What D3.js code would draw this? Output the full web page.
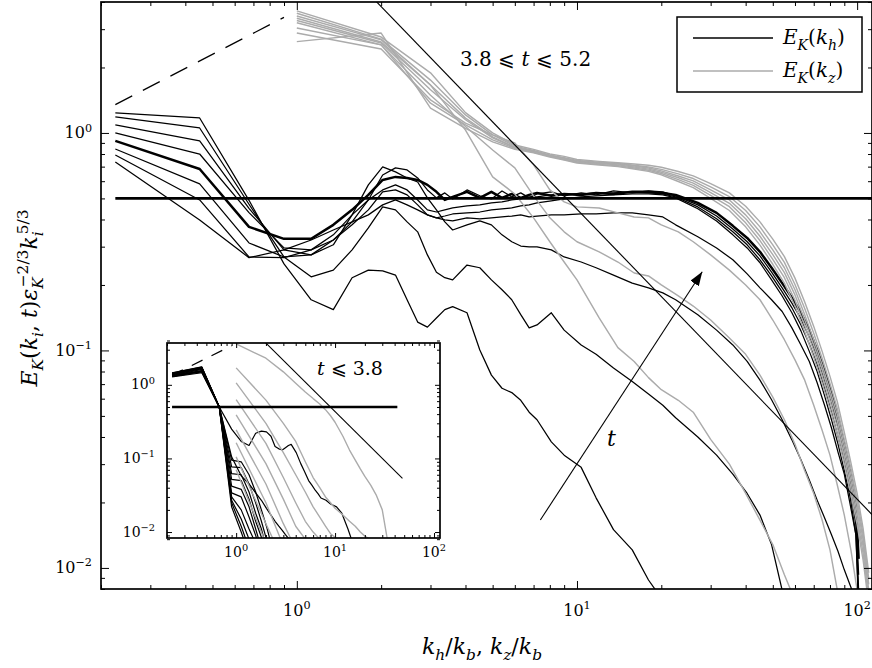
<!DOCTYPE html>
<html>
<head>
<meta charset="utf-8">
<script src="https://cdn.jsdelivr.net/npm/d3@7"></script>
<style>
  body { margin: 0; background: #fff; }
  svg { display: block; }
</style>
</head>
<body>
<div id="chart"></div>
<script>
// ---- wavenumber grids ----
var kh = [0.225, 0.45, 0.675, 0.9, 1.125, 1.35, 1.575, 1.8, 2.025, 2.25, 2.475, 2.7, 2.925, 3.15, 3.375, 3.6,
  4.05, 4.5, 4.95, 5.4, 5.85, 6.3, 6.75, 7.2, 8.1, 9, 10.35, 11.7, 13.5, 15.75, 18, 20.25, 22.5, 27, 31.5, 36,
  40.5, 45, 49.5, 54, 58.5, 63, 67.5, 72, 76.5, 81, 85.5, 90, 94.5, 99, 101.25];
var kz = [1, 2, 3, 4, 5, 6, 7, 8, 9, 10, 12, 14, 16, 18, 20, 23, 26, 30, 35, 40, 45, 50, 55, 60, 65, 70, 75,
  80, 85, 90, 95, 100, 105, 110];

// ---- main panel, E_K(k_h), 3.8 <= t <= 5.2 ----
var ekh0 = [1.236, 1.172, 0.49, 0.25, 0.171, 0.154, 0.216, 0.234, 0.232, 0.222, 0.171, 0.135, 0.128, 0.141, 0.154, 0.159,
  0.149, 0.1005, 0.077, 0.067, 0.064, 0.059, 0.052, 0.048, 0.038, 0.033, 0.029, 0.021, 0.015, 0.0121, 0.0088, 0.0071];
var ekh1 = [1.185, 1.054, 0.47, 0.269, 0.218, 0.234, 0.290, 0.366, 0.457, 0.443, 0.390, 0.351, 0.275, 0.229, 0.216, 0.211,
  0.247, 0.240, 0.211, 0.190, 0.171, 0.146, 0.127, 0.131, 0.149, 0.124, 0.106, 0.096, 0.083, 0.072, 0.063, 0.056, 0.049,
  0.040, 0.033, 0.027, 0.022, 0.0175, 0.0128, 0.0079];
var ekh2 = [1.088, 0.919, 0.45, 0.290, 0.275, 0.306, 0.420, 0.577, 0.698, 0.662, 0.621, 0.595, 0.503, 0.443, 0.390, 0.358,
  0.378, 0.394, 0.378, 0.340, 0.316, 0.302, 0.299, 0.299, 0.290, 0.269, 0.255, 0.240, 0.222, 0.204, 0.194, 0.184, 0.171,
  0.146, 0.124, 0.106, 0.089, 0.073, 0.0593, 0.048, 0.0388, 0.0314, 0.0254, 0.0205, 0.0170, 0.0142, 0.0119, 0.0098,
  0.0083, 0.0071];
var ekh3 = [1.0, 0.80, 0.43, 0.296, 0.290, 0.322, 0.378, 0.443, 0.536, 0.547, 0.519, 0.467, 0.420, 0.407, 0.398, 0.394,
  0.407, 0.403, 0.407, 0.411, 0.415, 0.420, 0.411, 0.415, 0.420, 0.420, 0.424, 0.424, 0.429, 0.429, 0.420, 0.411, 0.378,
  0.333, 0.296, 0.261, 0.225, 0.194, 0.171, 0.151, 0.127, 0.106, 0.089, 0.071, 0.056, 0.044, 0.034, 0.027, 0.0195,
  0.0142, 0.0064];
var ekh4 = [0.919, 0.683, 0.370, 0.326, 0.326, 0.378, 0.443, 0.519, 0.608, 0.628, 0.621, 0.608, 0.577, 0.536, 0.492, 0.508,
  0.536, 0.503, 0.536, 0.503, 0.524, 0.503, 0.519, 0.530, 0.514, 0.524, 0.519, 0.530, 0.524, 0.536, 0.536, 0.530, 0.519,
  0.477, 0.429, 0.374, 0.329, 0.284, 0.240, 0.204, 0.175, 0.149, 0.124, 0.1005, 0.080, 0.063, 0.048, 0.037, 0.028,
  0.0195, 0.011];
var ekh5 = [0.844, 0.583, 0.312, 0.269, 0.275, 0.322, 0.390, 0.492, 0.641, 0.691, 0.676, 0.621, 0.547, 0.503, 0.530, 0.497,
  0.547, 0.514, 0.497, 0.541, 0.508, 0.530, 0.503, 0.524, 0.536, 0.514, 0.530, 0.519, 0.541, 0.530, 0.541, 0.536, 0.514,
  0.467, 0.415, 0.362, 0.316, 0.272, 0.229, 0.194, 0.165, 0.140, 0.115, 0.094, 0.073, 0.058, 0.044, 0.034, 0.025,
  0.0175, 0.0093];
var ekh6 = [0.792, 0.492, 0.269, 0.267, 0.290, 0.340, 0.420, 0.492, 0.547, 0.577, 0.547, 0.492, 0.443, 0.433, 0.443, 0.452,
  0.462, 0.467, 0.477, 0.482, 0.492, 0.497, 0.508, 0.508, 0.519, 0.524, 0.524, 0.530, 0.530, 0.536, 0.530, 0.524, 0.508,
  0.457, 0.403, 0.351, 0.306, 0.261, 0.220, 0.186, 0.157, 0.131, 0.107, 0.086, 0.067, 0.052, 0.040, 0.031, 0.023,
  0.0158, 0.0079];
var ekh7 = [0.736, 0.398, 0.267, 0.290, 0.322, 0.358, 0.390, 0.420, 0.467, 0.492, 0.467, 0.443, 0.420, 0.407, 0.415, 0.424,
  0.429, 0.433, 0.443, 0.448, 0.452, 0.462, 0.467, 0.477, 0.487, 0.497, 0.508, 0.514, 0.519, 0.524, 0.524, 0.519, 0.503,
  0.448, 0.394, 0.340, 0.296, 0.253, 0.211, 0.178, 0.149, 0.123, 0.099, 0.080, 0.062, 0.048, 0.037, 0.028, 0.021,
  0.0142, 0.0071];
var mainKh = [ekh0, ekh1, ekh2, ekh3, ekh4, ekh5, ekh6, ekh7];
var thickIndex = 4;

// ---- main panel, E_K(k_z) ----
var ekz0 = [3.45, 2.68, 1.66, 1.03, 0.628, 0.524, 0.407, 0.316, 0.255, 0.211, 0.141, 0.103, 0.089, 0.075, 0.066, 0.059,
  0.052, 0.039, 0.030, 0.022, 0.0166, 0.0128, 0.0093, 0.0071];
var ekz1 = [3.04, 2.54, 1.49, 1.07, 0.835, 0.691, 0.514, 0.407, 0.351, 0.316, 0.284, 0.255, 0.227, 0.220, 0.200, 0.178,
  0.160, 0.138, 0.114, 0.096, 0.077, 0.061, 0.048, 0.037, 0.028, 0.022, 0.0166, 0.0121, 0.0079];
var ekz2 = [2.88, 2.43, 1.42, 1.11, 0.979, 0.90, 0.713, 0.547, 0.482, 0.457, 0.452, 0.429, 0.411, 0.407, 0.378, 0.351,
  0.316, 0.275, 0.234, 0.200, 0.171, 0.138, 0.112, 0.0905, 0.073, 0.056, 0.043, 0.033, 0.024, 0.0175, 0.0121, 0.0079];
var ekz3 = [3.64, 2.76, 1.89, 1.24, 1.00, 0.88, 0.84, 0.80, 0.78, 0.755, 0.74, 0.73, 0.72, 0.71, 0.695, 0.665, 0.635,
  0.585, 0.53, 0.46, 0.39, 0.325, 0.27, 0.215, 0.167, 0.129, 0.099, 0.076, 0.058, 0.042, 0.0305, 0.022, 0.0152, 0.0095];
var ekz4 = [3.55, 2.70, 1.75, 1.21, 0.98, 0.87, 0.83, 0.79, 0.77, 0.748, 0.733, 0.724, 0.71, 0.697, 0.68, 0.648, 0.617,
  0.565, 0.51, 0.44, 0.37, 0.306, 0.254, 0.201, 0.156, 0.12, 0.092, 0.0705, 0.054, 0.039, 0.0285, 0.0206, 0.0143, 0.0089];
var ekz5 = [3.37, 2.62, 1.66, 1.17, 0.96, 0.86, 0.825, 0.79, 0.765, 0.742, 0.728, 0.72, 0.705, 0.69, 0.669, 0.634, 0.602,
  0.547, 0.492, 0.42, 0.351, 0.29, 0.24, 0.19, 0.146, 0.112, 0.0859, 0.0658, 0.0506, 0.0368, 0.0268, 0.0195, 0.0135, 0.0084];
var ekz6 = [3.29, 2.59, 1.58, 1.15, 0.95, 0.855, 0.82, 0.785, 0.76, 0.738, 0.723, 0.713, 0.697, 0.682, 0.66, 0.622, 0.588,
  0.532, 0.475, 0.403, 0.335, 0.276, 0.228, 0.18, 0.138, 0.106, 0.081, 0.062, 0.0475, 0.0345, 0.0251, 0.0182, 0.0126, 0.0079];
var ekz7 = [3.21, 2.54, 1.37, 1.09, 0.93, 0.85, 0.815, 0.78, 0.755, 0.733, 0.717, 0.706, 0.69, 0.674, 0.651, 0.61, 0.574,
  0.516, 0.458, 0.386, 0.32, 0.262, 0.216, 0.17, 0.13, 0.1, 0.076, 0.058, 0.0445, 0.0322, 0.0234, 0.017, 0.0117, 0.0073];
var ekz8 = [2.63, 2.88, 1.30, 1.05, 0.91, 0.84, 0.81, 0.775, 0.75, 0.728, 0.712, 0.70, 0.683, 0.666, 0.642, 0.598, 0.56,
  0.5, 0.44, 0.37, 0.305, 0.249, 0.204, 0.16, 0.122, 0.093, 0.071, 0.054, 0.0413, 0.03, 0.0218, 0.0158, 0.0109, 0.0068];
var mainKz = [ekz0, ekz1, ekz2, ekz3, ekz4, ekz5, ekz6, ekz7, ekz8];

// ---- inset, t <= 3.8 ----
var insKh = [
  [1.30, 1.55, 0.50, 0.25, 0.17, 0.15, 0.22, 0.235, 0.23, 0.20, 0.145, 0.135, 0.13, 0.14, 0.15, 0.155, 0.12, 0.085,
    0.065, 0.05, 0.043, 0.037, 0.033, 0.029, 0.027, 0.024, 0.022, 0.018, 0.011, 0.006],
  [1.33, 1.62, 0.50, 0.105, 0.058, 0.045, 0.034, 0.027, 0.021, 0.017, 0.014, 0.012, 0.0105, 0.0092, 0.0082, 0.007],
  [1.36, 1.66, 0.50, 0.095, 0.09, 0.06, 0.035, 0.02, 0.012, 0.007],
  [1.38, 1.68, 0.50, 0.077, 0.075, 0.045, 0.025, 0.014, 0.008, 0.005],
  [1.40, 1.70, 0.50, 0.062, 0.06, 0.035, 0.018, 0.011, 0.006],
  [1.42, 1.72, 0.50, 0.052, 0.05, 0.028, 0.014, 0.0085, 0.005],
  [1.44, 1.74, 0.50, 0.042, 0.038, 0.022, 0.011, 0.006],
  [1.45, 1.75, 0.50, 0.034, 0.03, 0.016, 0.009, 0.005],
  [1.28, 1.46, 0.50, 0.030, 0.02, 0.011, 0.007],
  [1.30, 1.50, 0.50, 0.027, 0.015, 0.008, 0.005],
  [1.32, 1.52, 0.50, 0.025, 0.012, 0.006],
  [1.34, 1.56, 0.50, 0.022, 0.010, 0.005]
];
var insKz = [
  [0.07, 0.007],
  [0.105, 0.013, 0.004],
  [0.163, 0.025, 0.0065],
  [0.244, 0.045, 0.013, 0.006],
  [0.39, 0.085, 0.028, 0.012, 0.008, 0.004],
  [0.63, 0.16, 0.055, 0.025, 0.014, 0.010, 0.008, 0.005],
  [1.06, 0.30, 0.12, 0.06, 0.035, 0.022, 0.016, 0.012, 0.0095, 0.0085, 0.005],
  [1.7, 0.62, 0.30, 0.17, 0.09, 0.055, 0.04, 0.03, 0.025, 0.021, 0.017, 0.014, 0.012, 0.010, 0.0088, 0.0078, 0.006],
  [3.6, 2.3, 1.5, 1.05, 0.8, 0.65, 0.55, 0.46, 0.38, 0.31, 0.2, 0.13, 0.095, 0.072, 0.057, 0.043, 0.032, 0.02, 0.006]
];

// ---- reference lines ----
var plateau = [[0.225, 0.5], [113, 0.5]];
var slope43 = [[1, 9.6], [113, 0.0176]];
var slope23 = [[0.225, 1.35], [0.9, 3.4]];
var insPlateau = [[0.225, 0.5], [42.6, 0.5]];
var insSlope43 = [[1, 9.3], [48, 0.0534]];
var arrowT = [[7.4, 0.0166], [28, 0.23]];

// ---- ticks ----
var xMajor = [1, 10, 100];
var xMinor = [0.2, 0.3, 0.4, 0.5, 0.6, 0.7, 0.8, 0.9, 2, 3, 4, 5, 6, 7, 8, 9, 20, 30, 40, 50, 60, 70, 80, 90];
var yMajor = [0.01, 0.1, 1];
var yMinor = [0.008, 0.009, 0.02, 0.03, 0.04, 0.05, 0.06, 0.07, 0.08, 0.09, 0.2, 0.3, 0.4, 0.5, 0.6, 0.7, 0.8, 0.9, 2, 3, 4];
var xLabels = [[1, '0'], [10, '1'], [100, '2']];
var yLabels = [[1, '0'], [0.1, '\u22121'], [0.01, '\u22122']];

var GRAY = '#ababab';
var FONT = '"DejaVu Serif", serif';

var svg = d3.select('#chart').append('svg').attr('width', 872).attr('height', 668);
svg.append('rect').attr('width', 872).attr('height', 668).attr('fill', '#fff');

// math-like text from parts: {t, i: italic, s: 'sub'|'sup', dx}
function mathText(g, x, y, parts, size, anchor) {
  var t = g.append('text').attr('x', x).attr('y', y)
    .attr('font-family', FONT).attr('fill', '#000')
    .attr('font-size', size).attr('text-anchor', anchor || 'start');
  var level = 0;
  parts.forEach(function(p) {
    var shift = p.s === 'sub' ? 0.28 : (p.s === 'sup' ? -0.42 : 0);
    t.append('tspan')
      .attr('dy', ((shift - level) * size).toFixed(2))
      .attr('dx', p.dx || 0)
      .attr('font-size', p.s ? size * 0.7 : size)
      .attr('font-style', p.i ? 'italic' : 'normal')
      .text(p.t);
    level = shift;
  });
  return t;
}

function drawTicks(g, xs, ys, big, small) {
  var xr = xs.range(), yr = ys.range();
  var sets = [
    [d3.axisBottom(xs), 'translate(0,' + yr[0] + ')', xMajor, xMinor],
    [d3.axisTop(xs), 'translate(0,' + yr[1] + ')', xMajor, xMinor],
    [d3.axisLeft(ys), 'translate(' + xr[0] + ',0)', yMajor, yMinor],
    [d3.axisRight(ys), 'translate(' + xr[1] + ',0)', yMajor, yMinor]
  ];
  sets.forEach(function(s) {
    [[s[2], big], [s[3], small]].forEach(function(p) {
      var ax = s[0].tickValues(p[0]).tickSize(-p[1]).tickFormat('');
      g.append('g').attr('transform', s[1]).call(ax)
        .call(function(a) { a.select('.domain').remove(); });
    });
  });
}

function panel(id, xs, ys, opts) {
  var xr = xs.range(), yr = ys.range();
  var g = svg.append('g');
  svg.append('clipPath').attr('id', id)
    .append('rect').attr('x', xr[0]).attr('y', yr[1])
    .attr('width', xr[1] - xr[0]).attr('height', yr[0] - yr[1]);
  g.append('rect').attr('x', xr[0]).attr('y', yr[1])
    .attr('width', xr[1] - xr[0]).attr('height', yr[0] - yr[1]).attr('fill', '#fff');
  var plot = g.append('g').attr('clip-path', 'url(#' + id + ')');
  var line = d3.line().x(function(d) { return xs(d[0]); }).y(function(d) { return ys(d[1]); });

  plot.selectAll('.kh').data(opts.kh).enter().append('path')
    .attr('d', function(d) { return line(d3.zip(kh, d)); })
    .attr('fill', 'none').attr('stroke', '#000')
    .attr('stroke-width', function(d, i) { return i === opts.thick ? opts.lw * 2 : opts.lw; })
    .attr('stroke-linejoin', 'round');
  plot.selectAll('.kz').data(opts.kz).enter().append('path')
    .attr('d', function(d) { return line(d3.zip(kz, d)); })
    .attr('fill', 'none').attr('stroke', GRAY).attr('stroke-width', opts.lw * 1.15)
    .attr('stroke-linejoin', 'round');

  plot.append('path').attr('d', line(opts.plateau))
    .attr('stroke', '#000').attr('stroke-width', opts.lw * 2.1);
  plot.append('path').attr('d', line(opts.slope))
    .attr('stroke', '#000').attr('stroke-width', opts.lw * 0.9);
  plot.append('path').attr('d', line(slope23))
    .attr('stroke', '#000').attr('stroke-width', opts.lw)
    .attr('stroke-dasharray', opts.dash);

  drawTicks(g, xs, ys, opts.big, opts.small);
  g.append('rect').attr('x', xr[0]).attr('y', yr[1])
    .attr('width', xr[1] - xr[0]).attr('height', yr[0] - yr[1])
    .attr('fill', 'none').attr('stroke', '#000').attr('stroke-width', 1.7);

  xLabels.forEach(function(l) {
    mathText(g, xs(l[0]), opts.xLabY, [{ t: '10' }, { t: l[1], s: 'sup' }], opts.fs, 'middle');
  });
  yLabels.forEach(function(l) {
    mathText(g, opts.yLabX, ys(l[0]) + opts.fs * 0.33, [{ t: '10' }, { t: l[1], s: 'sup' }], opts.fs, 'end');
  });
  return { g: g, line: line };
}

// ---- main panel ----
var x = d3.scaleLog().domain([0.2, 113]).range([101, 872]);
var y = d3.scaleLog().domain([0.008, 4]).range([589, 2]);
var mainP = panel('clipMain', x, y, {
  kh: mainKh, kz: mainKz, thick: thickIndex, lw: 1.25,
  plateau: plateau, slope: slope43, dash: '19,12',
  big: 8, small: 4, xLabY: 616, yLabX: 92, fs: 16
});

// arrow showing increasing time
var defs = svg.append('defs');
defs.append('marker').attr('id', 'head').attr('markerUnits', 'userSpaceOnUse')
  .attr('viewBox', '0 0 14 10').attr('markerWidth', 14).attr('markerHeight', 10)
  .attr('refX', 14).attr('refY', 5).attr('orient', 'auto')
  .append('path').attr('d', 'M0,0L14,5L0,10z').attr('fill', '#000');
mainP.g.append('path').attr('d', mainP.line(arrowT))
  .attr('stroke', '#000').attr('stroke-width', 1.1).attr('marker-end', 'url(#head)');
mathText(mainP.g, x(12.8), y(0.0365), [{ t: 't', i: true }], 22);
mathText(mainP.g, 460, 66, [{ t: '3.8 \u2A7D ' }, { t: 't', i: true }, { t: ' \u2A7D 5.2' }], 20);

// ---- inset ----
var xi = d3.scaleLog().domain([0.2, 115]).range([167, 440]);
var yi = d3.scaleLog().domain([0.0083, 3.7]).range([538, 343]);
var insP = panel('clipInset', xi, yi, {
  kh: insKh, kz: insKz, thick: -1, lw: 1.2,
  plateau: insPlateau, slope: insSlope43, dash: '12,10',
  big: 5, small: 3, xLabY: 557, yLabX: 155, fs: 14
});
mathText(insP.g, 317, 375, [{ t: 't', i: true }, { t: ' \u2A7D 3.8' }], 19);

// ---- legend ----
var legend = svg.append('g').attr('transform', 'translate(677,17)');
legend.append('rect').attr('width', 185).attr('height', 75)
  .attr('fill', '#fff').attr('stroke', '#000').attr('stroke-width', 1.5);
[['#000', 'h'], [GRAY, 'z']].forEach(function(d, i) {
  var ly = 21 + i * 33;
  legend.append('line').attr('x1', 16).attr('x2', 96).attr('y1', ly).attr('y2', ly)
    .attr('stroke', d[0]).attr('stroke-width', 1.5);
  mathText(legend, 106, ly + 6, [
    { t: 'E', i: true }, { t: 'K', i: true, s: 'sub' }, { t: '(' },
    { t: 'k', i: true }, { t: d[1], i: true, s: 'sub' }, { t: ')' }
  ], 20);
});

// ---- axis titles ----
mathText(svg, 482, 654, [
  { t: 'k', i: true }, { t: 'h', i: true, s: 'sub' }, { t: '/' }, { t: 'k', i: true }, { t: 'b', i: true, s: 'sub' },
  { t: ', ' }, { t: 'k', i: true }, { t: 'z', i: true, s: 'sub' }, { t: '/' }, { t: 'k', i: true }, { t: 'b', i: true, s: 'sub' }
], 22, 'middle');
var yt = svg.append('g').attr('transform', 'translate(37,298) rotate(-90)');
mathText(yt, 0, 0, [
  { t: 'E', i: true }, { t: 'K', i: true, s: 'sub' }, { t: '(' }, { t: 'k', i: true }, { t: 'i', i: true, s: 'sub' },
  { t: ', ' }, { t: 't', i: true }, { t: ')' }, { t: '\u03B5', i: true }, { t: 'K', i: true, s: 'sub' },
  { t: '\u22122/3', s: 'sup', dx: -10 }, { t: 'k', i: true }, { t: 'i', i: true, s: 'sub' }, { t: '5/3', s: 'sup', dx: -3 }
], 22, 'middle');
</script>
</body>
</html>
